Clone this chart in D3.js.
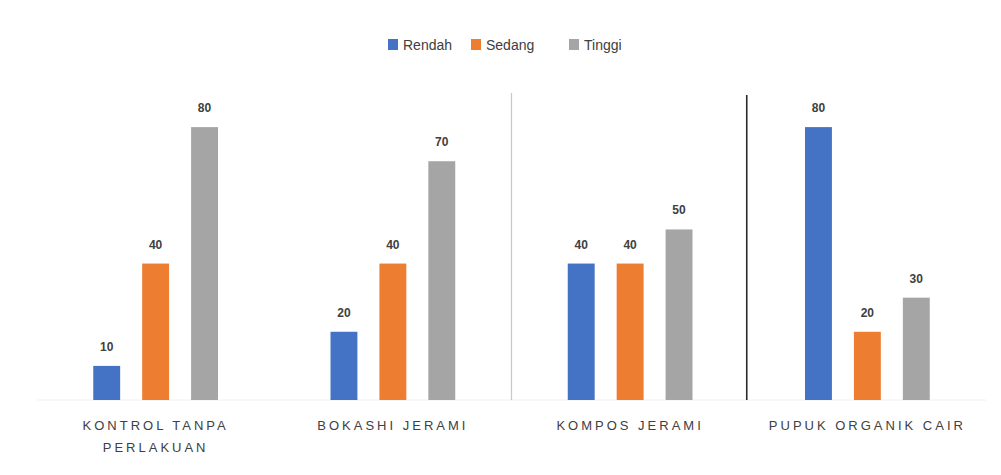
<!DOCTYPE html>
<html>
<head>
  <title>Bar Chart</title>
  <script src="https://d3js.org/d3.v7.min.js"></script>
  <style>
    body { margin: 0; background: #fff; }
    text { font-family: "Liberation Sans", Arial, sans-serif; }
  </style>
</head>
<body>
  <div id="chart"></div>
  <script>
    const categories = ["KONTROL TANPA PERLAKUAN", "BOKASHI JERAMI", "KOMPOS JERAMI", "PUPUK ORGANIK CAIR"];
    const seriesNames = ["Rendah", "Sedang", "Tinggi"];
    const rendah = [10, 20, 40, 80];
    const sedang = [40, 40, 40, 20];
    const tinggi = [80, 70, 50, 30];
    const colors = ["#4472C4", "#ED7D31", "#A5A5A5"];

    const series = [rendah, sedang, tinggi];
    const W = 1001, H = 475;
    const margin = { top: 93, right: 15, bottom: 75, left: 37 };
    const width = W - margin.left - margin.right;
    const height = H - margin.top - margin.bottom;

    const svg = d3.select("#chart").append("svg")
      .attr("width", W).attr("height", H);

    const g = svg.append("g")
      .attr("transform", "translate(" + margin.left + "," + margin.top + ")");

    const x0 = d3.scaleBand().domain(categories).range([0, width]);
    const x1 = d3.scaleBand().domain(seriesNames).range([0, x0.bandwidth()]).paddingInner(0.45).paddingOuter(1.15);
    const y = d3.scaleLinear().domain([0, 90]).range([height, 0]);

    // faint axis line
    g.append("line")
      .attr("x1", 0).attr("x2", width)
      .attr("y1", y(0)).attr("y2", y(0))
      .attr("stroke", "#f0f0f0");

    // separators between some categories (as in the original picture)
    g.append("line")
      .attr("x1", x0(categories[2])).attr("x2", x0(categories[2]))
      .attr("y1", 0).attr("y2", y(0))
      .attr("stroke", "#c8c8c8").attr("stroke-width", 1.2);
    g.append("line")
      .attr("x1", x0(categories[3]) - 2).attr("x2", x0(categories[3]) - 2)
      .attr("y1", 2).attr("y2", y(0))
      .attr("stroke", "#2a2a2a").attr("stroke-width", 1.6);

    const rows = [];
    categories.forEach((c, i) => {
      seriesNames.forEach((s, j) => rows.push({ cat: c, name: s, value: series[j][i], color: colors[j] }));
    });

    g.selectAll(".bar").data(rows).enter().append("rect")
      .attr("class", "bar")
      .attr("x", d => x0(d.cat) + x1(d.name))
      .attr("y", d => y(d.value))
      .attr("width", x1.bandwidth())
      .attr("height", d => y(0) - y(d.value))
      .attr("fill", d => d.color);

    g.selectAll(".val").data(rows).enter().append("text")
      .attr("class", "val")
      .attr("x", d => x0(d.cat) + x1(d.name) + x1.bandwidth() / 2)
      .attr("y", d => y(d.value) - 15)
      .attr("text-anchor", "middle")
      .style("font-size", "12px")
      .style("font-weight", "bold")
      .style("fill", "#404040")
      .text(d => d.value);

    // category labels, wrapped to two lines when long
    const xAxis = g.append("g").attr("transform", "translate(0," + (y(0) + 30) + ")");
    categories.forEach(c => {
      const words = c.split(" ");
      const lines = c.length > 20 ? [words.slice(0, 2).join(" "), words.slice(2).join(" ")] : [c];
      const t = xAxis.append("text")
        .attr("x", x0(c) + x0.bandwidth() / 2)
        .attr("text-anchor", "middle")
        .style("font-size", "13px")
        .style("letter-spacing", "3px")
        .style("fill", "#404040");
      lines.forEach((l, k) => {
        t.append("tspan").attr("x", x0(c) + x0.bandwidth() / 2).attr("dy", k === 0 ? 0 : 22).text(l);
      });
    });

    // legend
    const legend = svg.append("g").attr("transform", "translate(388,45)");
    const offsets = [0, 83, 181];
    seriesNames.forEach((s, i) => {
      const lg = legend.append("g").attr("transform", "translate(" + offsets[i] + ",0)");
      lg.append("rect").attr("x", 0).attr("y", -6).attr("width", 10).attr("height", 11).attr("fill", colors[i]);
      lg.append("text").attr("x", 15).attr("y", 5)
        .style("font-size", "14px").style("fill", "#404040").text(s);
    });
  </script>
</body>
</html>
